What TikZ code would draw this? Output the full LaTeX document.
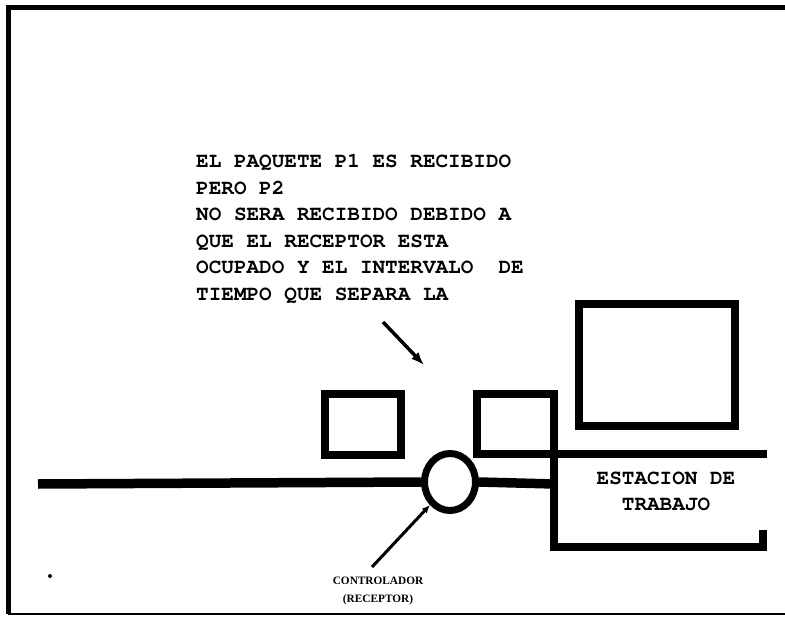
\documentclass[tikz,border=0pt]{standalone}
\usepackage{fontspec}
\newfontfamily\twfont{TeX Gyre Cursor}
\newfontfamily\smfont{Liberation Serif}
\usetikzlibrary{shapes.geometric,arrows.meta}
\begin{document}
\begin{tikzpicture}[x=1pt,y=-1pt,
  boxline/.style={draw=black, line width=8pt, inner sep=0pt, line join=miter},
  busline/.style={line width=9.5pt},
  typetext/.style={font=\twfont\bfseries\fontsize{21}{26.6}\selectfont, inner sep=0pt},
  smalltext/.style={font=\smfont\bfseries\fontsize{11.3}{18}\selectfont, inner sep=0pt, align=center},
  pointer/.style={line width=3.5pt, -{Latex[length=13pt,width=10pt]}}
]
\useasboundingbox (0,0) rectangle (785,618);
\fill[white] (0,0) rectangle (785,618);
% frame
\draw[line width=5pt] (785,8) -- (8,8) -- (8,614);
\draw[line width=2pt] (8,614) -- (785,614);
% note text
\node[typetext, anchor=north west, align=left] (note) at (196,154)
 {EL PAQUETE P1 ES RECIBIDO\\PERO P2\\NO SERA RECIBIDO DEBIDO A\\QUE EL RECEPTOR ESTA\\OCUPADO Y EL INTERVALO\ \ DE\\TIEMPO QUE SEPARA LA};
% pointer arrow under text
\coordinate (ptrs) at (383,322);
\coordinate (ptre) at (424,365);
\draw[pointer] (ptrs) -- (ptre);
% boxes
\node[boxline, rectangle, minimum width=76pt, minimum height=61pt] (box1) at (363,424.5) {};
\node[boxline, rectangle, minimum width=156pt, minimum height=122pt] (bigbox) at (657,365) {};
% workstation outline with second box
\coordinate (b2bl) at (477,454);
\coordinate (b2tl) at (477,394);
\coordinate (b2tr) at (554,394);
\coordinate (stbl) at (554,547);
\coordinate (stbr) at (763,547);
\coordinate (stbe) at (763,530);
\coordinate (sttr) at (767,454);
\coordinate (junc) at (554,484);
\draw[line width=8.5pt, line join=miter] (sttr) -- (b2bl) -- (b2tl) -- (b2tr) -- (stbl) -- (stbr) -- (stbe);
% controller
\node[draw, ellipse, line width=7pt, minimum width=51pt, minimum height=57pt, inner sep=0pt] (ctrl) at (450,482) {};
\coordinate (busl) at (38,484);
\draw[busline] (busl) -- (ctrl.west);
\draw[busline] (ctrl.east) -- (junc);
% labels
\node[typetext, align=center, font=\twfont\bfseries\fontsize{21}{26}\selectfont] (est) at (666,491) {ESTACION DE\\TRABAJO};
\node[smalltext] (ctrllab) at (378,591) {CONTROLADOR\\(RECEPTOR)};
\coordinate (cptr) at (372,567);
\draw[line width=3pt, -{Latex[length=8pt,width=7pt]}] (cptr) -- (ctrl.229);
% speck
\fill (50,576) circle (2pt);
\end{tikzpicture}
\end{document}
